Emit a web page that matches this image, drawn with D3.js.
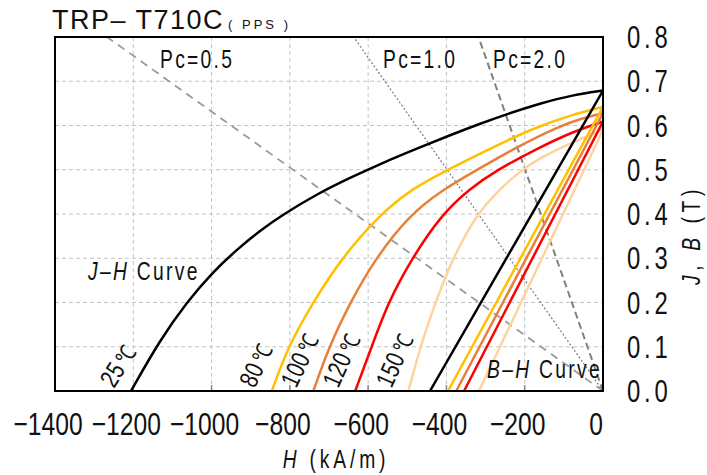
<!DOCTYPE html>
<html>
<head>
<meta charset="utf-8">
<script src="https://cdn.jsdelivr.net/npm/d3@7"></script>
<style>
  body { margin: 0; background: #fff; }
  svg { display: block; }
  text { font-family: "Liberation Sans", Arial, sans-serif; fill: #111; }
</style>
</head>
<body>
<script>
// values
const hTicks = [-1400, -1200, -1000, -800, -600, -400, -200, 0];
const jTicks = [0, 0.1, 0.2, 0.3, 0.4, 0.5, 0.6, 0.7, 0.8];
const temps = ["25", "80", "100", "120", "150"];

// J-H curves, [H kA/m, J T]
const jh25 = [[-1206,0],[-1132,0.115],[-1063,0.201],[-999,0.267],[-935,0.32],[-871,0.366],[-817,0.399],[-731,0.445],[-646,0.482],[-562,0.516],[-475,0.548],[-391,0.578],[-314,0.604],[-245,0.626],[-161,0.65],[-77,0.669],[0,0.679]];
const jh80 = [[-846,0],[-805,0.1],[-741,0.2],[-669,0.299],[-570,0.399],[-485,0.459],[-399,0.499],[-289,0.548],[-169,0.597],[-84,0.623],[0,0.642]];
const jh100 = [[-740,0],[-700,0.1],[-646,0.2],[-582,0.299],[-493,0.399],[-409,0.455],[-323,0.499],[-217,0.553],[-110,0.599],[-54,0.616],[0,0.628]];
const jh120 = [[-633,0],[-591,0.1],[-549,0.2],[-489,0.299],[-412,0.399],[-342,0.456],[-272,0.499],[-166,0.549],[-77,0.586],[0,0.609]];
const jh150 = [[-497,0],[-467,0.1],[-428,0.2],[-385,0.299],[-323,0.399],[-266,0.455],[-208,0.499],[-161,0.527],[-77,0.563],[0,0.59]];
const jhCurves = [jh25, jh80, jh100, jh120, jh150];

// B-H lines: Br at H=0 and Hcb at B=0
const bhBr = [0.679, 0.642, 0.628, 0.609, 0.590];
const bhHcb = [-442, -396, -375, -355, -317];

// permeance lines, H where each reaches B=0.8
const pcLabels = ["Pc=0.5", "Pc=1.0", "Pc=2.0"];
const pcTopH = [-1267, -637, -318];

const colors = ["#000000", "#FFC000", "#E8803C", "#FF0000", "#FFD3A0"];

const W = 707, H = 475;
const margin = {top: 37, right: 104, bottom: 84, left: 55};
const width = W - margin.left - margin.right;
const height = H - margin.top - margin.bottom;
const SX = 0.77; // narrow lettering like the original

const x = d3.scaleLinear().domain([-1400, 0]).range([0, width]);
const y = d3.scaleLinear().domain([0, 0.8]).range([height, 0]);

const svg = d3.select("body").append("svg")
  .attr("width", W)
  .attr("height", H);

// condensed text helper
function label(parent, tx, ty, size, opts = {}) {
  const t = parent.append("text")
    .attr("transform", `translate(${tx},${ty}) rotate(${opts.rot || 0}) scale(${opts.sx || SX},1)`)
    .attr("text-anchor", opts.anchor || "start")
    .style("font-size", size + "px");
  if (opts.ls) t.style("letter-spacing", opts.ls + "px");
  return t;
}

const g = svg.append("g")
  .attr("transform", `translate(${margin.left},${margin.top})`);

g.append("clipPath").attr("id", "clip")
  .append("rect").attr("width", width).attr("height", height);

// grid
g.append("g").selectAll("line")
  .data(hTicks.slice(1, -1))
  .enter().append("line")
  .attr("x1", d => x(d)).attr("x2", d => x(d))
  .attr("y1", 0).attr("y2", height)
  .attr("stroke", "#c4c4c4").attr("stroke-dasharray", "4,3");

g.append("g").selectAll("line")
  .data(jTicks.slice(1, -1))
  .enter().append("line")
  .attr("y1", d => y(d)).attr("y2", d => y(d))
  .attr("x1", 0).attr("x2", width)
  .attr("stroke", "#c4c4c4").attr("stroke-dasharray", "4,3");

// small inward ticks on the bottom edge
g.append("g").selectAll("line")
  .data(hTicks.slice(1, -1))
  .enter().append("line")
  .attr("x1", d => x(d)).attr("x2", d => x(d))
  .attr("y1", height).attr("y2", height - 6)
  .attr("stroke", "#888").attr("stroke-width", 1.5);

const plot = g.append("g").attr("clip-path", "url(#clip)");

// permeance lines
const pcStyle = [
  {stroke: "#9a9a9a", w: 1.8, dash: "8,6"},
  {stroke: "#7a7a7a", w: 1.2, dash: "2,2"},
  {stroke: "#808080", w: 2, dash: "7,4"}
];
pcTopH.forEach((h, i) => {
  plot.append("line")
    .attr("x1", x(0)).attr("y1", y(0))
    .attr("x2", x(h)).attr("y2", y(0.8))
    .attr("stroke", pcStyle[i].stroke)
    .attr("stroke-width", pcStyle[i].w)
    .attr("stroke-dasharray", pcStyle[i].dash);
});

const straight = d3.line()
  .x(d => x(d[0]))
  .y(d => y(d[1]));

const smooth = d3.line()
  .x(d => x(d[0]))
  .y(d => y(d[1]))
  .curve(d3.curveBasis);

// hottest first so the black curves sit on top
d3.range(jhCurves.length).reverse().forEach(i => {
  plot.append("path")
    .datum([[bhHcb[i], 0], [0, bhBr[i]]])
    .attr("d", straight)
    .attr("fill", "none")
    .attr("stroke", colors[i])
    .attr("stroke-width", 2.5);
  plot.append("path")
    .datum(jhCurves[i])
    .attr("d", smooth)
    .attr("fill", "none")
    .attr("stroke", colors[i])
    .attr("stroke-width", 2.5);
});

// frame
g.append("rect")
  .attr("width", width).attr("height", height)
  .attr("fill", "none").attr("stroke", "#000").attr("stroke-width", 2);

// x axis labels
hTicks.forEach(d => {
  label(g, x(d) - 7, height + 44, 32, {anchor: "middle"})
    .text(d3.format("d")(d).replace("-", "\u2212"));
});

// y axis labels
jTicks.forEach(d => {
  label(g, width + 24, y(d) + 11, 31, {ls: 5})
    .text(d.toFixed(1));
});

// axis titles
const xt = label(svg, 336, 468, 25, {anchor: "middle", ls: 5});
xt.append("tspan").style("font-style", "italic").text("H");
xt.append("tspan").text(" (kA/m)");

const yt = label(svg, 700, 235, 25, {anchor: "middle", rot: -90, ls: 6});
yt.append("tspan").style("font-style", "italic").text("J");
yt.append("tspan").text(", ");
yt.append("tspan").style("font-style", "italic").text("B");
yt.append("tspan").text(" (T)");

// title
const tt = label(svg, 52, 29, 27, {sx: 1, ls: 1.5});
tt.append("tspan").text("TRP\u2013 T710C");
tt.append("tspan").attr("dx", 4).style("font-size", "13px").style("letter-spacing", "3px").text("( PPS )");

// Pc labels
const pcLabelX = [160, 383, 493];
pcLabels.forEach((t, i) => {
  label(svg, pcLabelX[i], 68, 25, {ls: 3}).text(t);
});

// curve names
const jl = label(svg, 88, 280, 25, {ls: 3});
jl.append("tspan").style("font-style", "italic").text("J\u2013H");
jl.append("tspan").text(" Curve");

const bl = label(svg, 487, 378, 25, {ls: 3});
bl.append("tspan").style("font-style", "italic").text("B\u2013H");
bl.append("tspan").text(" Curve");

// temperature labels along each curve foot
const tempRot = [-58, -65, -65, -66, -66];
temps.forEach((t, i) => {
  const tl = label(g, x(jhCurves[i][0][0]) - 17, height - 2, 26, {rot: tempRot[i], ls: 0.5});
  tl.append("tspan").text(t);
  tl.append("tspan").attr("dx", 4).style("font-size", "23px").text("℃");
});
</script>
</body>
</html>
